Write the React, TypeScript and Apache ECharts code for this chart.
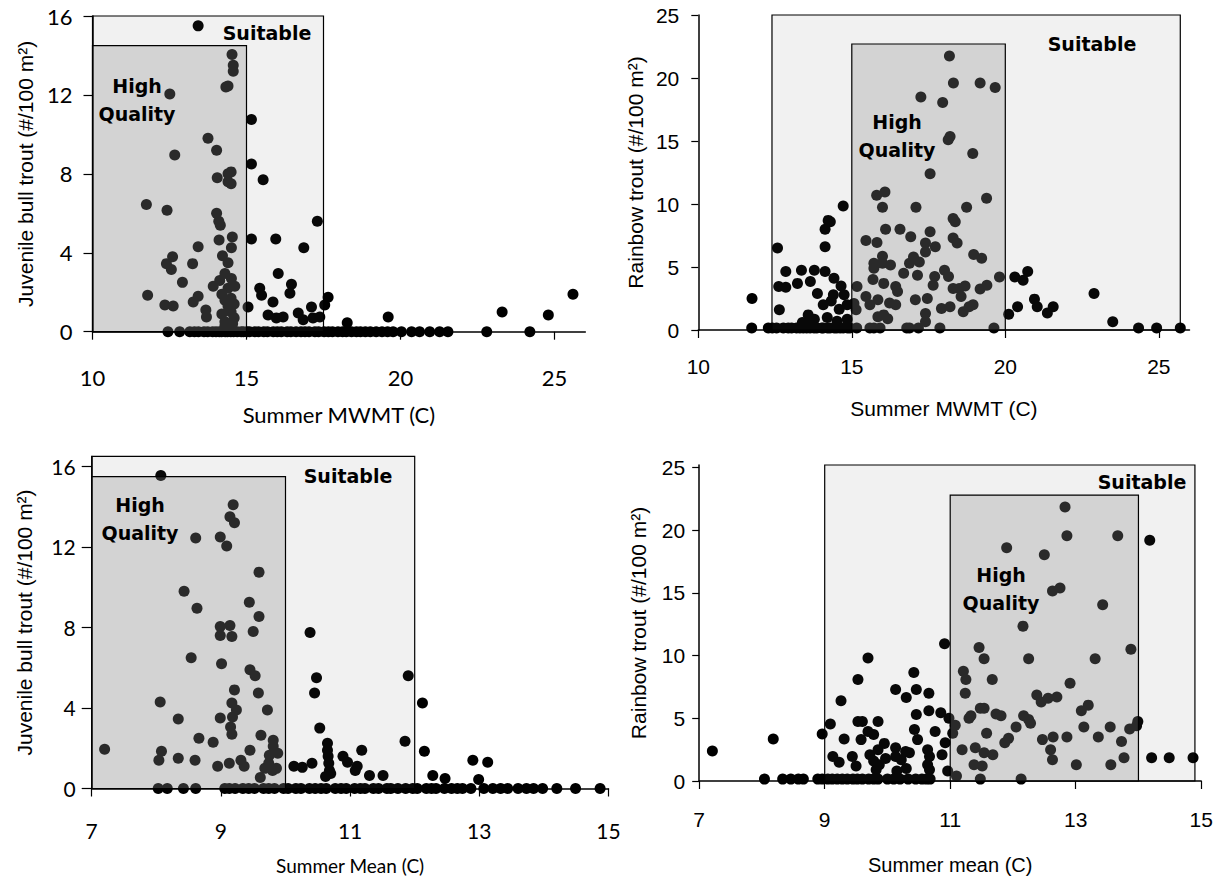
import React, { useEffect, useRef } from "react";
import * as echarts from "echarts";

// ---------- data ----------
// Juvenile bull trout density vs summer MWMT (non-zero sites)
const bullMwmt: [number, number][] = [
  [13.43, 15.5], [12.51, 12.05], [14.53, 14.05], [14.57, 13.5], [14.57, 13.2], [14.33, 12.4], [14.4, 12.45],
  [15.16, 10.75], [13.75, 9.8], [14.03, 9.2], [12.67, 8.95], [15.16, 8.5], [15.54, 7.7], [14.05, 7.8],
  [14.4, 8.0], [14.5, 8.1], [14.4, 7.6], [14.5, 7.5], [11.75, 6.45], [12.42, 6.15], [14.03, 6.0], [14.1, 5.6],
  [14.15, 5.4], [17.3, 5.6], [15.16, 4.7], [15.95, 4.7], [16.86, 4.25], [14.11, 4.65], [14.54, 4.8], [14.51, 4.25],
  [13.43, 4.3], [12.6, 3.8], [12.4, 3.45], [12.56, 3.15], [13.25, 3.45], [14.22, 3.85], [14.4, 3.5], [12.92, 2.5],
  [11.79, 1.85], [12.35, 1.35], [12.62, 1.3], [13.27, 1.5], [13.43, 1.8], [13.68, 1.1], [13.7, 0.75], [13.92, 2.3],
  [14.13, 2.6], [14.3, 2.95], [14.51, 2.7], [14.62, 2.3], [14.2, 1.9], [14.3, 1.6], [14.4, 1.3], [14.5, 1.0],
  [14.6, 0.7], [14.3, 0.5], [14.4, 2.2], [14.5, 1.7], [14.6, 1.4], [14.2, 0.9], [14.3, 0.3], [14.55, 0.4],
  [15.05, 1.25], [15.43, 2.2], [15.49, 1.85], [16.03, 2.95], [16.46, 2.4], [16.41, 1.95], [15.86, 1.5], [15.7, 0.85],
  [15.97, 0.7], [16.19, 0.75], [16.68, 0.95], [16.84, 0.6], [17.11, 1.25], [17.16, 0.7], [17.38, 0.75], [17.54, 1.35],
  [17.65, 1.75], [18.27, 0.45], [19.6, 0.75], [23.3, 1.0], [24.8, 0.85], [25.6, 1.9],
];
// MWMT of sites with no bull trout
const bullMwmtZeroX: number[] = [
  12.45, 12.83, 13.16, 13.31, 13.44, 13.62, 13.74, 13.9, 14.01, 14.12, 14.19, 14.31, 14.38, 14.49, 14.58, 14.7,
  14.83, 14.9, 15.02, 15.1, 15.27, 15.39, 15.56, 15.68, 15.87, 16.0, 16.13, 16.32, 16.44, 16.61, 16.77, 16.9,
  17.03, 17.22, 17.34, 17.52, 17.66, 17.79, 17.97, 18.12, 18.24, 18.41, 18.57, 18.7, 18.86, 19.02, 19.21, 19.4,
  19.58, 19.76, 20.03, 20.36, 20.62, 20.95, 21.27, 21.54, 22.8, 24.2,
];

// Rainbow trout density vs summer MWMT (non-zero sites)
const rainbowMwmt: [number, number][] = [
  [18.18, 21.75], [18.31, 19.6], [19.18, 19.6], [19.67, 19.25], [17.25, 18.5], [17.96, 18.05], [18.2, 15.35],
  [18.14, 15.1], [18.94, 14.0], [17.55, 12.4], [15.81, 10.7], [16.08, 10.95], [16.0, 9.75], [17.09, 9.75],
  [18.74, 9.75], [19.39, 10.45], [18.3, 8.85], [14.72, 9.85], [14.23, 8.7], [11.75, 2.5], [12.58, 6.5], [12.64, 1.6],
  [12.85, 4.65], [12.62, 3.45], [12.85, 3.4], [13.23, 3.7], [13.36, 4.75], [13.65, 3.85], [13.78, 4.75], [13.88, 2.9],
  [14.13, 8.0], [14.13, 6.6], [14.3, 8.6], [14.13, 4.65], [14.42, 4.1], [14.65, 3.5], [14.07, 2.0], [14.33, 2.3],
  [14.59, 1.65], [14.85, 2.0], [14.75, 2.8], [14.4, 2.8], [14.2, 1.0], [14.52, 0.7], [14.85, 0.85], [13.78, 0.85],
  [13.58, 1.2], [13.58, 0.5], [13.39, 0.6], [15.17, 3.45], [15.46, 7.1], [15.82, 6.95], [16.1, 8.0], [16.57, 8.0],
  [15.72, 5.3], [15.72, 4.9], [16.0, 5.85], [16.0, 5.3], [16.26, 5.15], [15.69, 4.0], [16.04, 3.7], [15.46, 2.65],
  [15.85, 2.4], [15.59, 2.0], [15.07, 2.1], [15.14, 1.6], [16.23, 2.15], [16.43, 2.0], [15.85, 1.05], [16.04, 1.2],
  [16.17, 0.9], [16.43, 3.45], [16.49, 3.05], [16.69, 4.5], [16.92, 7.4], [16.88, 5.3], [17.01, 5.8], [17.2, 5.4],
  [17.14, 4.35], [17.07, 2.4], [17.46, 2.5], [17.4, 1.3], [17.4, 0.65], [17.4, 6.9], [17.4, 6.2], [17.72, 6.6],
  [17.55, 7.8], [17.7, 4.25], [17.65, 3.55], [18.02, 4.75], [18.15, 4.25], [17.92, 1.7], [18.2, 1.85], [18.37, 8.6],
  [18.3, 7.3], [18.43, 6.9], [18.3, 3.3], [18.5, 3.3], [18.69, 3.5], [18.56, 2.65], [18.63, 1.45], [18.82, 1.85],
  [18.95, 2.0], [18.97, 6.0], [19.23, 5.7], [19.18, 3.25], [19.4, 3.55], [19.81, 4.2], [20.11, 1.25], [20.31, 4.2],
  [20.58, 3.95], [20.73, 4.65], [20.4, 1.85], [20.95, 2.45], [21.04, 1.85], [21.37, 1.35], [21.56, 1.85],
  [22.89, 2.9], [23.5, 0.65],
];
const rainbowMwmtZeroX: number[] = [
  11.74, 12.28, 12.41, 12.55, 12.77, 12.93, 13.04, 13.2, 13.31, 13.42, 13.53, 13.64, 13.77, 13.86, 14.02, 14.07,
  14.21, 14.29, 14.43, 14.51, 14.62, 14.72, 14.86, 14.94, 15.16, 15.59, 15.72, 15.92, 16.79, 16.88, 17.17, 17.87,
  19.63, 24.34, 24.93, 25.7,
];

// Juvenile bull trout density vs summer mean temperature (non-zero sites)
const bullMean: [number, number][] = [
  [8.07, 15.55], [9.19, 14.1], [9.14, 13.5], [9.21, 13.2], [8.61, 12.45], [8.99, 12.5], [9.09, 12.05], [9.59, 10.75],
  [8.43, 9.8], [8.63, 8.95], [9.44, 9.25], [9.59, 8.55], [9.5, 7.8], [10.38, 7.75], [8.99, 8.05], [9.14, 8.1],
  [8.99, 7.6], [9.17, 7.55], [8.54, 6.5], [9.01, 6.2], [9.45, 5.9], [9.53, 5.6], [10.48, 5.5], [10.45, 4.75],
  [11.9, 5.6], [8.06, 4.3], [9.21, 4.9], [9.17, 4.25], [9.24, 3.9], [9.18, 3.55], [9.15, 3.05], [9.17, 2.7],
  [9.58, 4.75], [9.72, 3.9], [8.99, 3.5], [8.34, 3.45], [10.53, 3.0], [8.66, 2.5], [8.88, 2.3], [9.62, 2.65],
  [9.81, 2.4], [9.81, 2.1], [9.75, 1.65], [9.88, 1.75], [9.45, 1.9], [7.2, 1.95], [8.08, 1.85], [8.04, 1.4],
  [8.34, 1.5], [8.6, 1.4], [8.95, 1.1], [9.13, 1.25], [9.31, 1.4], [9.36, 1.1], [9.61, 0.55], [9.68, 1.0],
  [9.74, 1.25], [9.8, 0.9], [9.86, 1.0], [10.65, 2.25], [10.65, 1.9], [10.66, 1.6], [10.67, 1.25], [10.68, 0.9],
  [10.7, 0.75], [10.62, 0.6], [10.13, 1.1], [10.26, 1.05], [10.41, 1.25], [10.89, 1.6], [10.96, 1.3], [11.08, 0.9],
  [11.11, 1.1], [11.18, 1.9], [11.3, 0.65], [11.51, 0.65], [11.85, 2.35], [12.12, 4.25], [12.15, 1.85],
  [12.28, 0.65], [12.47, 0.5], [12.9, 1.4], [13.13, 1.3], [12.99, 0.45],
];
const bullMeanZeroX: number[] = [
  8.03, 8.17, 8.42, 8.61, 9.06, 9.13, 9.22, 9.34, 9.43, 9.52, 9.66, 9.74, 9.83, 9.97, 10.04, 10.16, 10.24, 10.37,
  10.46, 10.55, 10.63, 10.77, 10.86, 10.94, 11.07, 11.16, 11.23, 11.36, 11.44, 11.57, 11.63, 11.74, 11.86, 11.97,
  12.04, 12.18, 12.26, 12.33, 12.46, 12.57, 12.66, 12.74, 12.87, 13.07, 13.21, 13.33, 13.44, 13.6, 13.73, 13.84,
  13.98, 14.2, 14.49, 14.87,
];

// Rainbow trout density vs summer mean temperature (non-zero sites)
const rainbowMean: [number, number][] = [
  [12.83, 21.85], [12.86, 19.55], [13.67, 19.55], [14.18, 19.2], [11.9, 18.6], [12.5, 18.05], [12.63, 15.15],
  [12.75, 15.4], [13.43, 14.05], [12.16, 12.35], [10.91, 10.95], [11.46, 10.65], [13.88, 10.5], [9.69, 9.8],
  [9.53, 8.1], [9.26, 6.4], [9.09, 4.55], [8.96, 3.75], [8.18, 3.35], [7.21, 2.4], [9.53, 4.75], [9.6, 4.75],
  [9.69, 3.95], [9.85, 4.75], [9.78, 3.7], [9.31, 3.35], [9.58, 3.3], [9.13, 1.95], [9.23, 1.5], [9.44, 1.95],
  [9.5, 1.2], [9.72, 2.1], [9.85, 2.5], [9.95, 3.0], [9.78, 1.6], [9.87, 1.3], [9.97, 1.8], [9.82, 0.9],
  [10.13, 7.3], [10.3, 6.65], [10.42, 8.65], [10.46, 7.3], [10.66, 7.0], [10.46, 5.3], [10.43, 4.1], [10.66, 5.6],
  [10.85, 5.45], [10.76, 3.95], [10.13, 2.65], [10.29, 2.35], [10.48, 3.3], [10.35, 2.25], [10.13, 1.95],
  [10.22, 1.7], [10.15, 0.8], [10.3, 1.0], [10.64, 2.5], [10.67, 1.95], [10.64, 1.3], [10.67, 0.9], [10.87, 2.1],
  [10.96, 0.8], [10.92, 3.05], [10.98, 5.0], [11.04, 3.8], [11.08, 4.45], [11.1, 0.4], [11.21, 8.75], [11.25, 8.1],
  [11.24, 7.0], [11.19, 2.5], [11.3, 5.0], [11.33, 5.2], [11.54, 9.75], [11.48, 5.8], [11.54, 5.8], [11.4, 2.65],
  [11.38, 1.3], [11.51, 1.2], [11.54, 2.25], [11.58, 3.8], [11.67, 8.1], [11.68, 2.1], [11.73, 5.35], [11.81, 5.2],
  [11.87, 3.05], [11.93, 3.4], [12.05, 4.3], [12.25, 9.75], [12.17, 5.2], [12.25, 4.9], [12.28, 4.6], [12.38, 6.85],
  [12.45, 6.3], [12.47, 3.3], [12.56, 6.6], [12.6, 2.5], [12.63, 1.7], [12.64, 3.5], [12.7, 6.7], [12.86, 3.5],
  [12.91, 7.8], [13.01, 1.3], [13.09, 5.6], [13.13, 4.3], [13.2, 6.05], [13.31, 9.75], [13.36, 3.5], [13.55, 4.3],
  [13.56, 1.3], [13.73, 3.15], [13.77, 1.85], [13.86, 4.15], [13.97, 4.4], [13.99, 4.75], [14.21, 1.85],
  [14.49, 1.85], [14.87, 1.85],
];
const rainbowMeanZeroX: number[] = [
  8.04, 8.33, 8.46, 8.58, 8.66, 8.89, 8.96, 9.05, 9.12, 9.2, 9.28, 9.36, 9.45, 9.52, 9.6, 9.7, 9.78, 9.85,
  10.0, 10.1, 10.2, 10.33, 10.45, 10.55, 10.62, 10.68, 11.48, 12.13,
];

// Habitat zones: [xFrom, yFrom, xTo, yTo]; first = Suitable, second = High Quality
const bullMwmtZones = [[10, 0, 17.5, 16], [10, 0, 15, 14.5]];
const rainbowMwmtZones = [[12.4, 0, 25.7, 25], [15, 0, 20, 22.7]];
const bullMeanZones = [[7, 0, 12, 16.5], [7, 0, 10, 15.5]];
const rainbowMeanZones = [[9, 0, 14.9, 25.2], [11, 0, 14, 22.8]];

// Tick values
const mwmtTicks = [10, 15, 20, 25];
const meanTicks = [7, 9, 11, 13, 15];
const bullTicks = [0, 4, 8, 12, 16];
const rainbowTicks = [0, 5, 10, 15, 20, 25];

const ZONE_LABEL = "Suitable";
const HQ_LABEL = "High\nQuality";

const GILL = 'Lato, "Gill Sans", "Gill Sans MT", sans-serif';
const ARIAL = '"Liberation Sans", Arial, sans-serif';
const COMIC = '"Comic Sans MS", "DejaVu Sans", sans-serif';

const SUITABLE_FILL = "rgba(93,93,93,0.086)";
const HQ_FILL = "rgba(133,133,133,0.28)";

function xAxisCfg(i: number, min: number, max: number, ticks: number[], name: string, font: string, fontSize: number, labelMargin: number, nameGap: number, nameSize: number) {
  return {
    type: "value",
    gridIndex: i,
    min,
    max,
    axisLine: { show: true, onZero: false, lineStyle: { color: "#000", width: 1.5 } },
    axisTick: { show: true, length: 8, customValues: ticks, lineStyle: { color: "#000", width: 1.2 } },
    axisLabel: { customValues: ticks, margin: labelMargin, color: "#000", fontSize, fontFamily: font },
    splitLine: { show: false },
    name,
    nameLocation: "middle",
    nameGap,
    nameTextStyle: { color: "#000", fontSize: nameSize, fontFamily: font },
  };
}

function yAxisCfg(i: number, max: number, ticks: number[], name: string, font: string, fontSize: number, labelMargin: number, nameGap: number, tickLen: number) {
  return {
    type: "value",
    gridIndex: i,
    min: 0,
    max,
    axisLine: { show: true, onZero: false, lineStyle: { color: "#000", width: 1.5 } },
    axisTick: { show: true, length: tickLen, customValues: ticks, lineStyle: { color: "#000", width: 1.2 } },
    axisLabel: { customValues: ticks, margin: labelMargin, color: "#000", fontSize, fontFamily: font },
    splitLine: { show: false },
    name,
    nameLocation: "middle",
    nameGap,
    nameTextStyle: { color: "#000", fontSize: 21, fontFamily: ARIAL },
  };
}

function scatterCfg(i: number, pts: [number, number][], zeros: number[], zeroY: number) {
  return {
    type: "scatter",
    xAxisIndex: i,
    yAxisIndex: i,
    symbol: "circle",
    symbolSize: 11,
    clip: false,
    z: 2,
    itemStyle: { color: "#000", opacity: 1 },
    data: [...zeros.map((x) => [x, zeroY]), ...pts],
  };
}

function zoneCfg(i: number, zones: number[][]) {
  return {
    type: "custom",
    xAxisIndex: i,
    yAxisIndex: i,
    z: 5,
    clip: false,
    silent: true,
    data: zones,
    encode: { x: [0, 2], y: [1, 3] },
    renderItem: (params: any, api: any) => {
      const a = api.coord([api.value(0), api.value(1)]);
      const b = api.coord([api.value(2), api.value(3)]);
      return {
        type: "rect",
        shape: { x: a[0], y: b[1], width: b[0] - a[0], height: a[1] - b[1] },
        style: { fill: params.dataIndex === 0 ? SUITABLE_FILL : HQ_FILL, stroke: "#000", lineWidth: 1.2 },
      };
    },
  };
}

function zoneText(x: number, y: number, text: string) {
  return {
    type: "text",
    x,
    y,
    z: 100,
    silent: true,
    style: {
      text,
      fill: "#000",
      font: `bold 19px ${COMIC}`,
      textAlign: "center",
      textVerticalAlign: "middle",
      lineHeight: 28,
    },
  };
}

export default function App() {
  const ref = useRef<HTMLDivElement>(null);
  useEffect(() => {
    if (!ref.current) return;
    const chart = echarts.init(ref.current, undefined, { renderer: "svg" });
    chart.setOption({
      animation: false,
      backgroundColor: "#fff",
      textStyle: { fontFamily: ARIAL },
      grid: [
        { left: 92.5, top: 16, width: 492.8, height: 315.7 },
        { left: 698.3, top: 15, width: 491.2, height: 315 },
        { left: 91.7, top: 456.4, width: 516.8, height: 332.1 },
        { left: 699.2, top: 465, width: 502, height: 316.7 },
      ],
      xAxis: [
        xAxisCfg(0, 10, 26, mwmtTicks, "Summer MWMT (C)", GILL, 22, 35, 72, 22),
        xAxisCfg(1, 10, 26, mwmtTicks, "Summer MWMT (C)", ARIAL, 21, 26, 68, 21),
        xAxisCfg(2, 7, 15, meanTicks, "Summer Mean (C)", GILL, 21, 31, 67, 19),
        xAxisCfg(3, 7, 15, meanTicks, "Summer mean (C)", ARIAL, 21, 28, 74, 20),
      ],
      yAxis: [
        yAxisCfg(0, 16, bullTicks, "Juvenile bull trout (#/100 m²)", GILL, 22, 20, 57, 9),
        yAxisCfg(1, 25, rainbowTicks, "Rainbow trout (#/100 m²)", ARIAL, 21, 19, 52, 7),
        yAxisCfg(2, 16.5, bullTicks, "Juvenile bull trout (#/100 m²)", GILL, 21, 16, 57, 10),
        yAxisCfg(3, 25.2, rainbowTicks, "Rainbow trout (#/100 m²)", ARIAL, 21, 14, 50, 7),
      ],
      series: [
        scatterCfg(0, bullMwmt, bullMwmtZeroX, 0),
        scatterCfg(1, rainbowMwmt, rainbowMwmtZeroX, 0.15),
        scatterCfg(2, bullMean, bullMeanZeroX, 0),
        scatterCfg(3, rainbowMean, rainbowMeanZeroX, 0.15),
        zoneCfg(0, bullMwmtZones),
        zoneCfg(1, rainbowMwmtZones),
        zoneCfg(2, bullMeanZones),
        zoneCfg(3, rainbowMeanZones),
      ],
      graphic: [
        zoneText(267, 33, ZONE_LABEL),
        zoneText(137, 100, HQ_LABEL),
        zoneText(1092, 44, ZONE_LABEL),
        zoneText(897, 136, HQ_LABEL),
        zoneText(348, 476, ZONE_LABEL),
        zoneText(140, 519, HQ_LABEL),
        zoneText(1142, 482, ZONE_LABEL),
        zoneText(1001, 589, HQ_LABEL),
      ],
    });
    return () => chart.dispose();
  }, []);
  return (
    <div
      ref={ref}
      style={{ position: "absolute", left: 0, top: 0, width: 1219, height: 876, background: "#fff" }}
    />
  );
}
